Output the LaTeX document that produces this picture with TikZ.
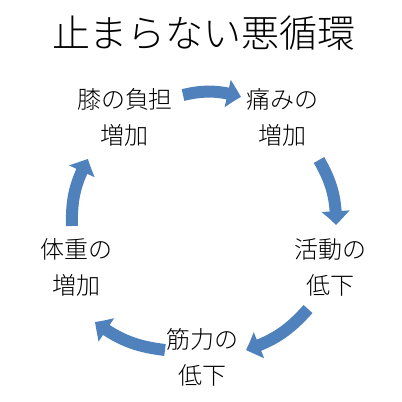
\documentclass[tikz,border=0pt]{standalone}
\usepackage{fontspec}
\newfontfamily\jpfont{Noto Sans CJK JP}[UprightFont={* Light}]
\usetikzlibrary{arrows.meta, bending}
\definecolor{cycleblue}{RGB}{79,129,189}

\begin{document}
\begin{tikzpicture}[x=1pt, y=1pt,
    stage/.style={font=\jpfont\fontsize{24}{36}\selectfont, align=center, inner sep=2pt},
    cyclearrow/.style={draw=cycleblue, line width=12pt,
        -{Triangle[width=27pt, length=14pt, bend]}, bend left=15}]
    \useasboundingbox (0,0) rectangle (402,402);

    \node[font=\jpfont\fontsize{38}{40}\selectfont] (title) at (204,369) {止まらない悪循環};

    \node[stage] (knee) at (125,285) {膝の負担\\増加};
    \node[stage] (pain) at (282,285) {痛みの\\増加};
    \node[stage] (activity) at (330,135) {活動の\\低下};
    \node[stage] (muscle) at (202,45) {筋力の\\低下};
    \node[stage] (weight) at (77,135) {体重の\\増加};

    % arrow ends around the loop
    \coordinate (knee out) at (183,307);
    \coordinate (pain in) at (241,305);
    \coordinate (pain out) at (319,242);
    \coordinate (activity in) at (336,177);
    \coordinate (activity out) at (308,93);
    \coordinate (muscle in) at (246,52);
    \coordinate (muscle out) at (165,52);
    \coordinate (weight in) at (95,80);
    \coordinate (weight out) at (72,176);
    \coordinate (knee in) at (88,243);

    \draw[cyclearrow] (knee out) to (pain in);
    \draw[cyclearrow] (pain out) to (activity in);
    \draw[cyclearrow] (activity out) to (muscle in);
    \draw[cyclearrow] (muscle out) to (weight in);
    \draw[cyclearrow] (weight out) to (knee in);
\end{tikzpicture}
\end{document}
